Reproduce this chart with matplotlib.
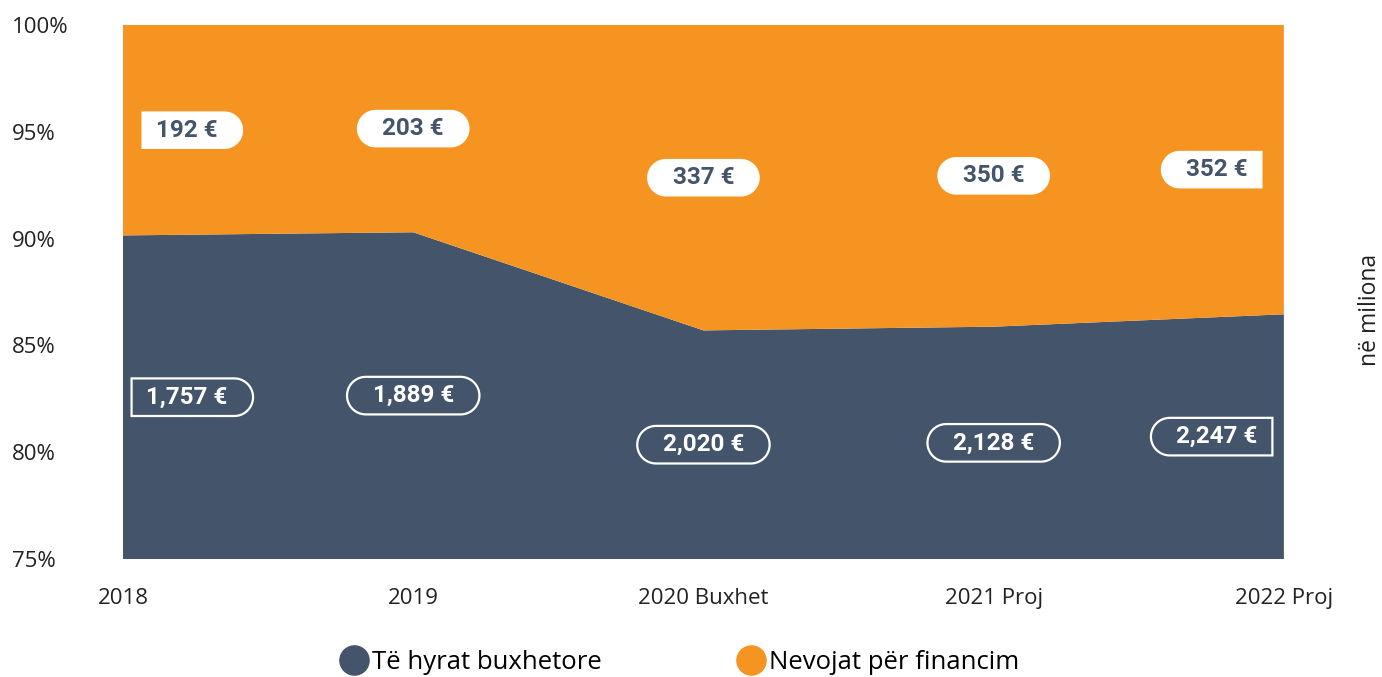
import matplotlib.pyplot as plt
import numpy as np
from matplotlib.path import Path
from matplotlib.lines import Line2D

# data (millions of euro)
years = ['2018', '2019', '2020 Buxhet', '2021 Proj', '2022 Proj']
revenues = [1757, 1889, 2020, 2128, 2247]
financing = [192, 203, 337, 350, 352]

blue = '#44546a'
orange = '#f69422'

rev = np.array(revenues, dtype=float)
fin = np.array(financing, dtype=float)
total = rev + fin
rev_pct = rev / total * 100
fin_pct = fin / total * 100


def pill(square_left=False, square_right=False, hpad=1.05, vpad=0.3, sqpad=0.6):
    # box with rounded ends, optionally one end cut square
    def style(x0, y0, width, height, mutation_size):
        lp = (sqpad if square_left else hpad) * mutation_size
        rp = (sqpad if square_right else hpad) * mutation_size
        vp = vpad * mutation_size
        x0 -= lp
        x1 = x0 + width + lp + rp
        y0 -= vp
        h = height + 2 * vp
        y1 = y0 + h
        r = h / 2
        verts = []
        if square_right:
            verts += [(x1, y0), (x1, y1)]
        else:
            t = np.linspace(-np.pi / 2, np.pi / 2, 30)
            verts += list(zip(x1 - r + r * np.cos(t), y0 + r + r * np.sin(t)))
        if square_left:
            verts += [(x0, y1), (x0, y0)]
        else:
            t = np.linspace(np.pi / 2, 3 * np.pi / 2, 30)
            verts += list(zip(x0 + r + r * np.cos(t), y0 + r + r * np.sin(t)))
        verts.append(verts[0])
        return Path(verts, closed=True)
    return style


plt.rcParams['font.family'] = ['Open Sans', 'DejaVu Sans']

fig = plt.figure(figsize=(13.82, 6.77), dpi=100)
ax = fig.add_axes([0.089, 0.1743, 0.84, 0.7888])

x = np.arange(len(years))
ax.stackplot(x, rev_pct, fin_pct, colors=[blue, orange], linewidth=0)
ax.set_xlim(0, len(years) - 1)
ax.set_ylim(75, 100)

ax.set_yticks([75, 80, 85, 90, 95, 100])
ax.set_yticklabels(['75%', '80%', '85%', '90%', '95%', '100%'])
ax.set_xticks(x)
ax.set_xticklabels(years)
ax.tick_params(axis='both', length=0, labelsize=16, colors='#222222')
ax.tick_params(axis='y', pad=80)
ax.tick_params(axis='x', pad=21)
for lab in ax.get_yticklabels():
    lab.set_ha('left')
for s in ax.spines.values():
    s.set_visible(False)

# value labels
lx = np.clip(x.astype(float), 0.22, len(years) - 1.23)
n = len(years)
for i in range(n):
    sl = i == 0
    sr = i == n - 1
    ax.text(lx[i], (rev_pct[i] + 100) / 2, f'{financing[i]:,} €', ha='center', va='center',
            fontsize=17.5, fontweight='bold', color=blue, family=['Roboto', 'DejaVu Sans'],
            bbox=dict(boxstyle=pill(sl, sr), fc='white', ec='none'))
    ax.text(lx[i], (75 + rev_pct[i]) / 2, f'{revenues[i]:,} €', ha='center', va='center',
            fontsize=17.5, fontweight='bold', color='white', family=['Roboto', 'DejaVu Sans'],
            bbox=dict(boxstyle=pill(sl, sr), fc='none', ec='white', lw=1.6))

fig.text(0.991, 0.542, 'në miliona', rotation=90, ha='center', va='center',
         fontsize=16.5, color='#222222')

handles = [Line2D([], [], marker='o', ls='none', color=blue, markersize=21),
           Line2D([], [], marker='o', ls='none', color=orange, markersize=21)]
fig.legend(handles, ['Të hyrat buxhetore', 'Nevojat për financim'], loc='center',
           bbox_to_anchor=(0.492, 0.022), ncol=2, frameon=False, fontsize=18.5,
           handlelength=1.0, handletextpad=0.2, columnspacing=5.3)

fig.savefig('out.png', dpi=100)
